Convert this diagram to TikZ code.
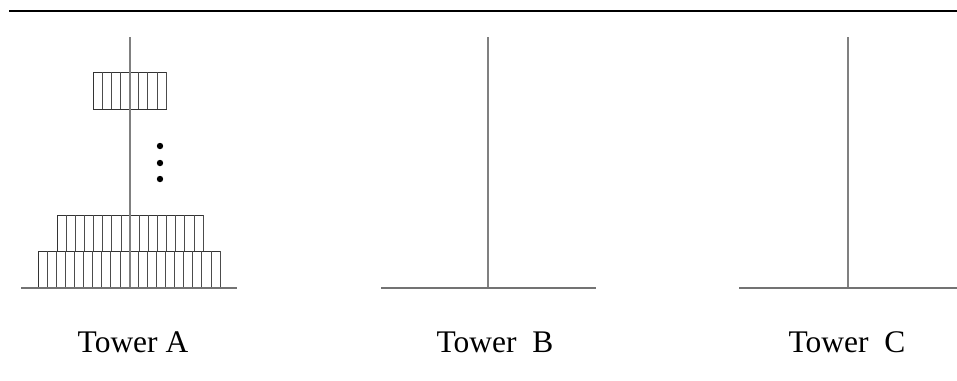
\documentclass[tikz,border=0pt]{standalone}
\usepackage{fontspec}
\setmainfont{Liberation Serif}
\begin{document}
\begin{tikzpicture}
	[x=0.75pt, y=-0.75pt,
	 peg/.style={draw=black!50, line width=0.9pt},
	 floor/.style={draw=black!55, line width=1.1pt},
	 disk/.style={draw=black!80, line width=0.6pt},
	 stripe/.style={draw=black!70, line width=0.55pt},
	 label/.style={anchor=base, inner sep=0pt, font=\fontsize{23.6}{28}\selectfont}]
	
	\useasboundingbox (0,0) rectangle (957,380);
	
	% top rule
	\coordinate (ruleL) at (9,11);
	\coordinate (ruleR) at (957,11);
	\draw[line width=1.4pt] (ruleL) -- (ruleR);
	
	% pegs and floors
	\coordinate (Atop) at (130,37);  \coordinate (Abot) at (130,288);
	\coordinate (Btop) at (488,37);  \coordinate (Bbot) at (488,288);
	\coordinate (Ctop) at (848,37);  \coordinate (Cbot) at (848,288);
	\coordinate (AL) at (21,288);  \coordinate (AR) at (237,288);
	\coordinate (BL) at (381,288); \coordinate (BR) at (596,288);
	\coordinate (CL) at (739,288); \coordinate (CR) at (957,288);
	
	% disks on tower A
	\foreach \l/\t/\r/\b in {93/72/166/109, 57/215/203/251, 38/251/220/288}{
		\draw[disk] (\l,\t) rectangle (\r,\b);
		\pgfmathsetmacro{\n}{int(round((\r-\l)/9))}
		\foreach \i [evaluate=\i as \sx using \l+\i*(\r-\l)/\n] in {1,...,\n}
			\draw[stripe] (\sx,\t) -- (\sx,\b);
	}
	
	\draw[peg] (Atop) -- (Abot);
	\draw[peg] (Btop) -- (Bbot);
	\draw[peg] (Ctop) -- (Cbot);
	\draw[floor] (AL) -- (AR);
	\draw[floor] (BL) -- (BR);
	\draw[floor] (CL) -- (CR);
	
	% dots
	\foreach \y in {146,163,179}
		\fill (160,\y) circle (2.4pt);
	
	\node[label] (labA) at (133,352) {Tower A};
	\node[label] (labB) at (495,352) {Tower\ \ B};
	\node[label] (labC) at (847,352) {Tower\ \ C};
\end{tikzpicture}
\end{document}
